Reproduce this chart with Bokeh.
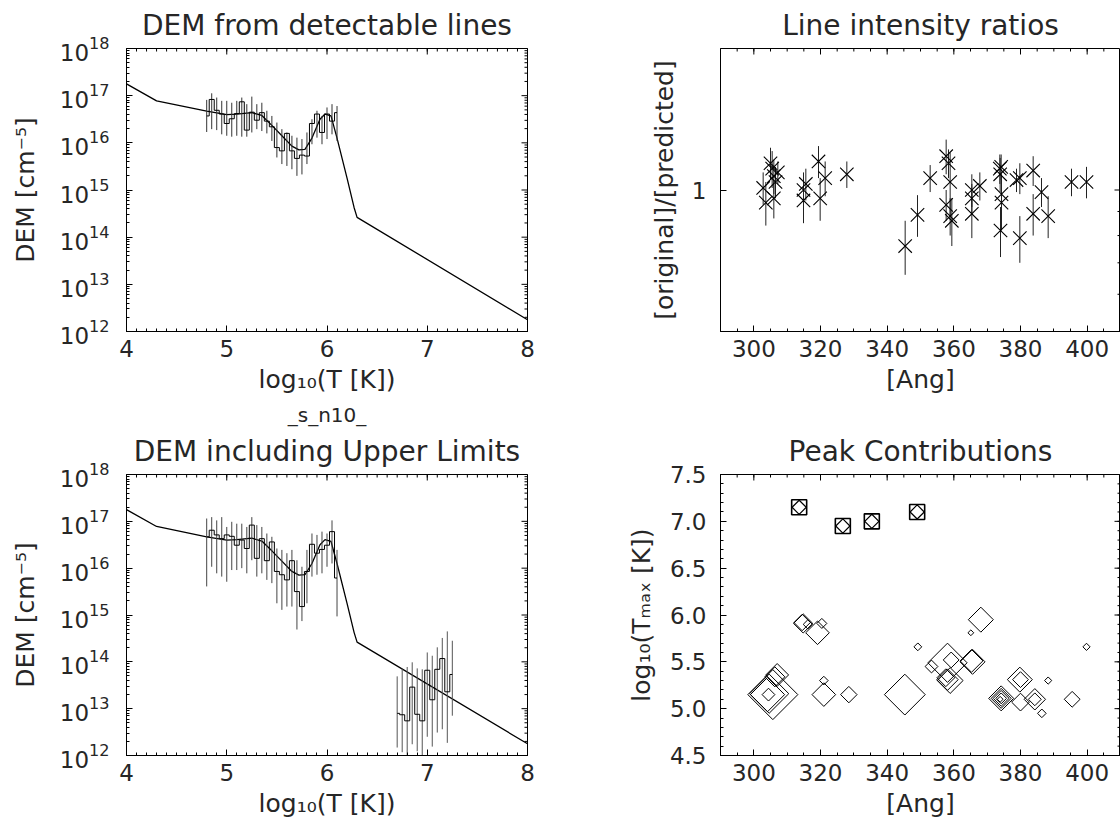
import numpy as np
from bokeh.plotting import figure
from bokeh.layouts import column, row
from bokeh.models import (FixedTicker, Title, Range1d, PrintfTickFormatter,
                          BasicTickFormatter)
from bokeh.embed import file_html
from bokeh.resources import INLINE

FONT = "DejaVu Sans"
TXT = "#262626"

# ---------------- data ----------------
# smooth DEM curve (log10 T, log10 DEM)
dem_logt = [4.00, 4.30, 4.80, 5.00, 5.10, 5.25, 5.35, 5.45, 5.55, 5.65, 5.72,
            5.78, 5.85, 5.93, 5.98, 6.04, 6.10, 6.20, 6.27, 6.30, 8.00]
dem_logv = [17.25, 16.89, 16.67, 16.60, 16.61, 16.64, 16.58, 16.37, 16.15, 15.93, 15.85,
            15.86, 16.10, 16.50, 16.61, 16.57, 16.10, 15.25, 14.63, 14.42, 12.25]

# histogram bins (log10 T)
hist_logt = [4.80, 4.85, 4.90, 4.95, 5.00, 5.05, 5.10, 5.15, 5.20, 5.25, 5.30, 5.35, 5.40,
             5.45, 5.50, 5.55, 5.60, 5.65, 5.70, 5.75, 5.80, 5.85, 5.90, 5.95, 6.00, 6.05, 6.10]

# panel 1: DEM from detectable lines (log10 values)
det_val = [16.57, 16.92, 16.69, 16.61, 16.41, 16.51, 16.62, 16.87, 16.27, 16.65, 16.48, 16.64, 16.46,
           16.34, 15.90, 15.83, 16.20, 15.83, 15.67, 15.74, 15.72, 16.41, 16.61, 16.22, 16.61, 16.46, 16.64]
det_hi = [16.91, 17.05, 16.96, 16.89, 16.89, 16.85, 16.89, 16.96, 16.82, 16.98, 16.82, 16.85, 16.68,
          16.57, 16.43, 16.29, 16.22, 16.15, 16.11, 16.08, 16.22, 16.50, 16.68, 16.57, 16.75, 16.82, 16.78]
det_lo = [16.23, 16.29, 16.27, 16.18, 16.15, 16.13, 16.15, 16.13, 16.13, 16.22, 16.29, 16.25, 16.20,
          16.04, 15.69, 15.55, 15.51, 15.44, 15.30, 15.33, 15.55, 15.97, 16.11, 15.97, 16.08, 16.18, 16.04]

# panel 3: DEM including upper limits
ul_val = [16.67, 16.81, 16.71, 16.63, 16.71, 16.68, 16.49, 16.60, 16.42, 16.92, 16.21, 16.63, 16.16,
          16.56, 15.93, 15.86, 15.75, 16.16, 15.50, 15.18, 15.93, 16.51, 16.32, 16.40, 16.49, 16.78, 15.79]
ul_hi = [17.06, 17.09, 17.02, 17.09, 16.88, 16.99, 16.95, 16.95, 16.88, 17.09, 16.92, 16.88, 16.74,
         16.67, 16.42, 16.39, 16.32, 16.39, 16.17, 16.03, 16.39, 16.74, 16.71, 16.78, 16.74, 17.02, 16.39]
ul_lo = [15.61, 16.03, 15.89, 15.82, 15.71, 15.96, 15.96, 16.00, 15.89, 16.17, 15.82, 15.89, 15.75,
         15.68, 15.25, 15.11, 15.18, 15.18, 14.69, 14.87, 15.25, 15.82, 15.86, 15.89, 16.03, 16.10, 14.97]

hot_logt = [6.70, 6.75, 6.80, 6.85, 6.90, 6.95, 7.00, 7.05, 7.10, 7.15, 7.20, 7.25]
hot_val = [12.90, 12.87, 12.74, 13.46, 12.88, 12.74, 13.82, 13.19, 13.84, 14.07, 13.36, 13.73]
hot_hi = [13.69, 13.86, 13.89, 13.99, 13.86, 13.84, 14.20, 14.13, 14.31, 14.51, 14.65, 14.45]
hot_lo = [12.17, 12.07, 11.98, 12.24, 12.09, 11.98, 12.40, 12.19, 12.49, 12.56, 12.27, 12.85]

# panel 2: line intensity ratios
ratio_wave = [303.6, 302.8, 305.0, 305.5, 306.0, 306.5, 306.0, 307.2,
              314.9, 315.6, 314.9, 319.4, 321.4, 319.9, 327.9,
              345.4, 349.1, 352.9, 357.7, 358.4, 358.9, 357.7, 358.9, 359.4,
              365.4, 365.4, 365.4, 367.8, 373.8, 373.9, 374.2, 374.3, 374.3, 374.0,
              378.8, 379.8, 379.8, 383.8, 383.8, 386.3, 388.3, 395.3, 399.8]
ratio_val = [0.94, 1.01, 1.14, 1.11, 1.07, 1.04, 0.96, 1.09,
             1.00, 1.03, 0.95, 1.15, 1.06, 0.96, 1.08,
             0.76, 0.885, 1.06, 1.18, 1.14, 1.04, 0.93, 0.88, 0.86,
             1.00, 0.96, 0.89, 1.02, 1.11, 1.08, 1.12, 0.98, 0.94, 0.82,
             1.05, 1.06, 0.79, 1.10, 0.89, 0.99, 0.88, 1.04, 1.04]
ratio_err = [0.10, 0.08, 0.09, 0.10, 0.09, 0.08, 0.09, 0.06,
             0.09, 0.08, 0.10, 0.09, 0.09, 0.10, 0.07,
             0.10, 0.09, 0.07, 0.10, 0.08, 0.16, 0.07, 0.08, 0.10,
             0.08, 0.07, 0.10, 0.07, 0.08, 0.09, 0.07, 0.10, 0.12, 0.10,
             0.06, 0.08, 0.09, 0.08, 0.09, 0.07, 0.09, 0.07, 0.08]

# panel 4: peak contributions
peak_wave = [305.7, 304.6, 304.1, 304.4, 307.0, 306.3, 314.8, 314.5, 316.2, 319.1, 320.4,
             321.0, 321.0, 328.5, 345.3, 349.2, 353.3, 358.1, 359.2, 358.1, 358.9, 357.6,
             365.1, 368.1, 365.6, 365.3, 374.2, 374.2, 374.2, 374.2, 373.9, 379.8, 380.0,
             380.0, 384.3, 384.3, 386.4, 388.3, 395.5, 399.8]
peak_logt = [5.15, 5.16, 5.15, 5.15, 5.36, 5.34, 5.91, 5.92, 5.90, 5.81, 5.91,
             5.30, 5.15, 5.15, 5.15, 5.66, 5.45, 5.49, 5.52, 5.31, 5.30, 5.33,
             5.81, 5.95, 5.50, 5.51, 5.11, 5.11, 5.11, 5.11, 5.10, 5.31, 5.31,
             5.07, 5.10, 5.10, 4.95, 5.30, 5.10, 5.66]
peak_contrib = [25.0, 19.6, 17.1, 6.4, 11.4, 10.0, 9.6, 8.2, 4.6, 11.8, 5.0,
                4.3, 11.8, 8.2, 20.4, 3.9, 6.4, 19.6, 7.9, 10.7, 12.9, 8.9,
                2.9, 12.5, 12.5, 11.4, 12.5, 10.0, 7.9, 5.4, 2.9, 12.5, 7.9,
                8.9, 10.7, 6.4, 4.3, 3.6, 7.9, 3.6]
limit_wave = [313.6, 326.7, 335.4, 349.0]
limit_logt = [7.15, 6.95, 7.00, 7.10]

# tick values
dem_x_ticks = [4, 5, 6, 7, 8]
dem_decades = [12, 13, 14, 15, 16, 17, 18]
ang_ticks = [300, 320, 340, 360, 380, 400]
tmax_ticks = [4.5, 5.0, 5.5, 6.0, 6.5, 7.0, 7.5]
ratio_minor = [0.6, 0.7, 0.8, 0.9]

x_minor_dem = [round(4 + 0.1 * i, 2) for i in range(41)]
y_major_dem = [10.0 ** k for k in dem_decades]
y_minor_dem = [m * 10.0 ** k for k in range(12, 18) for m in range(2, 10)]
ang_minor = list(range(290, 411, 5))
tmax_minor = [round(4.5 + 0.1 * i, 2) for i in range(31)]

MAJ, MIN = 12, 6   # tick marker lengths (half of each falls inside the frame)


# ---------------- helpers ----------------
def base_fig(w, h, bl, br, bt, bb, xr, yr, ylog):
    p = figure(width=w, height=h, x_range=Range1d(*xr), y_range=Range1d(*yr),
               y_axis_type="log" if ylog else "linear", output_backend="svg",
               toolbar_location=None, min_border_left=bl, min_border_right=br,
               min_border_top=bt, min_border_bottom=bb)
    p.xgrid.visible = False
    p.ygrid.visible = False
    p.outline_line_color = "black"
    p.background_fill_color = "white"
    p.border_fill_color = "white"
    return p


def style(ax, ticks, minor, label, standoff=8, label_standoff=5, fs="23px"):
    ax.ticker = FixedTicker(ticks=ticks, minor_ticks=minor)
    ax.axis_line_color = "black"
    ax.major_tick_line_color = "black"
    ax.minor_tick_line_color = "black"
    ax.major_tick_in = 6
    ax.major_tick_out = 0
    ax.minor_tick_in = 3
    ax.minor_tick_out = 0
    ax.major_label_text_font = FONT
    ax.major_label_text_color = TXT
    ax.major_label_text_font_size = fs
    ax.major_label_standoff = standoff
    ax.axis_label = label
    ax.axis_label_text_font = FONT
    ax.axis_label_text_font_size = "25px"
    ax.axis_label_text_font_style = "normal"
    ax.axis_label_text_color = TXT
    ax.axis_label_standoff = label_standoff


def add_title(p, text, size="28px", standoff=13):
    p.add_layout(Title(text=text, align="center", text_font=FONT, text_font_size=size,
                       text_font_style="normal", text_color=TXT, standoff=standoff), "above")


def hticks(p, xs, y, size):
    # vertical tick marks on a horizontal frame edge
    p.scatter(xs, [y] * len(xs), marker="dash", angle=np.pi / 2, size=size,
              line_color="black", line_width=1)


def vticks(p, ys, x, size):
    # horizontal tick marks on a vertical frame edge
    p.scatter([x] * len(ys), ys, marker="dash", size=size, line_color="black", line_width=1)


def dem_panel(h, bt, bb, title, sub=None):
    xr, yr = (4, 8), (1e12, 1e18)
    p = base_fig(560, h, 126, 33, bt, bb, xr, yr, True)
    style(p.xaxis[0], dem_x_ticks, x_minor_dem, "log\u2081\u2080(T [K])")
    style(p.yaxis[0], y_major_dem, y_minor_dem, "DEM [cm\u207b\u2075]",
          standoff=17, label_standoff=17, fs="23px")
    hticks(p, dem_x_ticks, yr[1], MAJ)
    hticks(p, x_minor_dem, yr[1], MIN)
    vticks(p, y_major_dem, xr[1], MAJ)
    vticks(p, y_minor_dem, xr[1], MIN)
    add_title(p, title)
    if sub:
        add_title(p, sub, size="20px", standoff=0)
    p.line(dem_logt, [10.0 ** v for v in dem_logv], line_color="black", line_width=1.3)
    return p


# ---------------- panel 1 ----------------
p1 = dem_panel(400, 47, 69, "DEM from detectable lines")
p1.segment(x0=hist_logt, y0=[10.0 ** v for v in det_lo], x1=hist_logt,
           y1=[10.0 ** v for v in det_hi], line_color="#333333", line_width=1)
p1.step(hist_logt, [10.0 ** v for v in det_val], mode="center", line_color="black", line_width=1)

# ---------------- panel 3 ----------------
p3 = dem_panel(433, 72, 78, "DEM including Upper Limits", sub="_s_n10_")
p3.segment(x0=hist_logt, y0=[10.0 ** v for v in ul_lo], x1=hist_logt,
           y1=[10.0 ** v for v in ul_hi], line_color="#444444", line_width=1)
p3.step(hist_logt, [10.0 ** v for v in ul_val], mode="center", line_color="black", line_width=1)
p3.segment(x0=hot_logt, y0=[10.0 ** v for v in hot_lo], x1=hot_logt,
           y1=[10.0 ** v for v in hot_hi], line_color="#555555", line_width=1)
p3.step(hot_logt, [10.0 ** v for v in hot_val], mode="center", line_color="black", line_width=1)

# ---------------- panel 2 ----------------
xr2, yr2 = (290, 410), (0.5, 2.0)
p2 = base_fig(560, 400, 160, 0, 47, 69, xr2, yr2, True)
style(p2.xaxis[0], ang_ticks, ang_minor, "[Ang]")
style(p2.yaxis[0], [1], [], "[original]/[predicted]", standoff=14, label_standoff=10)
p2.yaxis[0].formatter = BasicTickFormatter()
hticks(p2, ang_ticks, yr2[1], MAJ)
hticks(p2, ang_minor, yr2[1], MIN)
vticks(p2, [1], xr2[1], MAJ)
vticks(p2, ratio_minor, xr2[1], MIN)
add_title(p2, "Line intensity ratios")
lo = [v - e for v, e in zip(ratio_val, ratio_err)]
hi = [v + e for v, e in zip(ratio_val, ratio_err)]
p2.segment(x0=ratio_wave, y0=lo, x1=ratio_wave, y1=hi, line_color="#222222", line_width=1)
p2.scatter(ratio_wave, ratio_val, marker="x", size=19, line_color="black", line_width=1.1)

# ---------------- panel 4 ----------------
xr4, yr4 = (290, 410), (4.5, 7.5)
p4 = base_fig(560, 433, 160, 0, 72, 78, xr4, yr4, False)
style(p4.xaxis[0], ang_ticks, ang_minor, "[Ang]")
style(p4.yaxis[0], tmax_ticks, tmax_minor, "log\u2081\u2080(T\u2098\u2090\u2093 [K])",
      standoff=14, label_standoff=11)
p4.yaxis[0].formatter = PrintfTickFormatter(format="%.1f")
hticks(p4, ang_ticks, yr4[1], MAJ)
hticks(p4, ang_minor, yr4[1], MIN)
vticks(p4, tmax_ticks, xr4[1], MAJ)
vticks(p4, tmax_minor, xr4[1], MIN)
add_title(p4, "Peak Contributions")
p4.scatter(peak_wave, peak_logt, marker="square", angle=np.pi / 4,
           size=[c * np.sqrt(2) for c in peak_contrib], fill_color=None,
           line_color="black", line_width=1)
p4.scatter(limit_wave, limit_logt, marker="square", size=15, fill_color=None,
           line_color="black", line_width=1.6)
p4.scatter(limit_wave, limit_logt, marker="square", angle=np.pi / 4, size=10,
           fill_color=None, line_color="black", line_width=1.2)

layout = column(row(p1, p2), row(p3, p4))
open("out.html", "w").write(file_html(layout, INLINE))
